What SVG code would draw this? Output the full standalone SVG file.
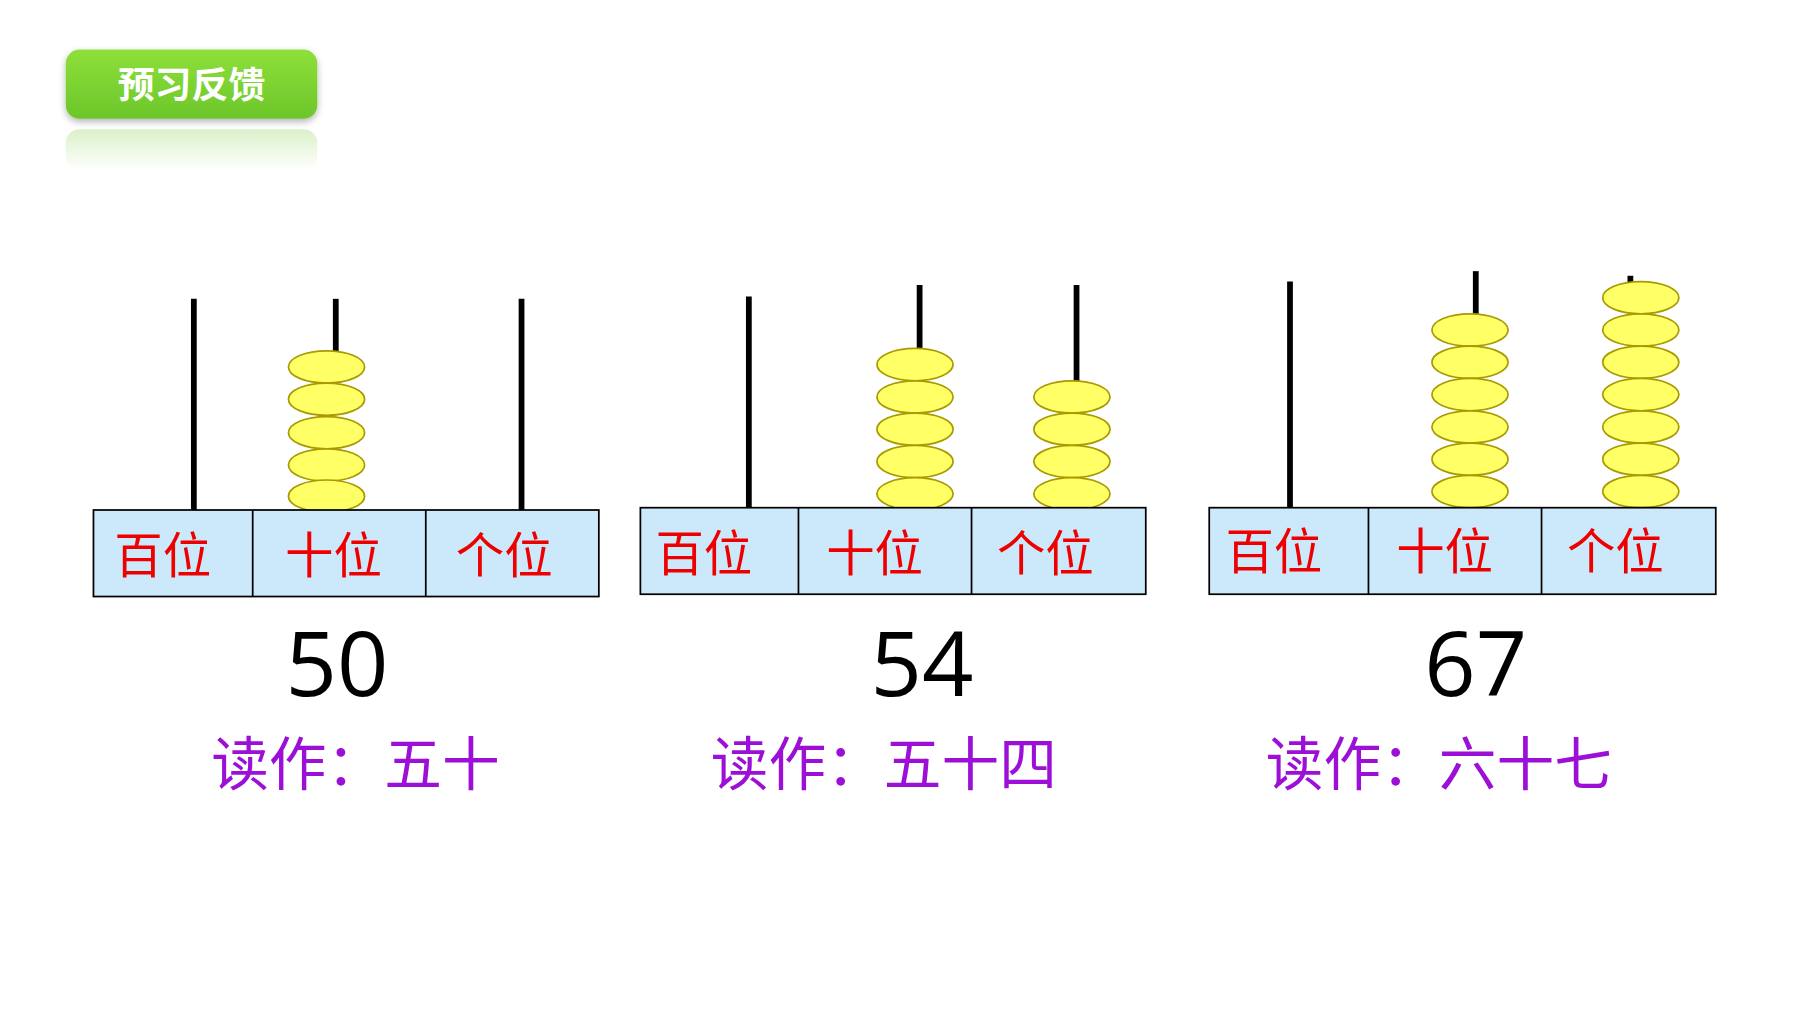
<svg xmlns="http://www.w3.org/2000/svg" width="1800" height="1020" viewBox="0 0 1800 1020">
<defs>
<linearGradient id="g" x1="0" y1="0" x2="0" y2="1"><stop offset="0" stop-color="#8ee03a"/><stop offset="1" stop-color="#6cc62a"/></linearGradient>
<linearGradient id="rf" x1="0" y1="0" x2="0" y2="1"><stop offset="0" stop-color="#6cc62a" stop-opacity="0.25"/><stop offset="1" stop-color="#6cc62a" stop-opacity="0"/></linearGradient>
<filter id="sh" x="-10%" y="-20%" width="120%" height="150%"><feGaussianBlur in="SourceAlpha" stdDeviation="3"/><feOffset dy="3"/><feComponentTransfer><feFuncA type="linear" slope="0.3"/></feComponentTransfer><feMerge><feMergeNode/><feMergeNode in="SourceGraphic"/></feMerge></filter>
<ellipse id="b" rx="33" ry="14" fill="#ffff66" stroke="#a89a00" stroke-width="1.5"/>
</defs>
<style>
.box{fill:#cce9fb;stroke:#000;stroke-width:1.5}
.rod{stroke:#000;stroke-width:5}
.lab{font-family:"Noto Sans CJK SC","Noto Sans",sans-serif;font-size:42px;fill:#ee0000;text-anchor:middle}
.num{font-family:"Open Sans","Noto Sans",sans-serif;font-size:78px;fill:#000;text-anchor:middle}
.rd{font-family:"Noto Sans CJK SC","Noto Sans",sans-serif;font-size:50px;fill:#9b0fd6}
</style>
<rect width="1800" height="1020" fill="#fff"/>
<g transform="scale(1.153846)">
<g id="title">
<rect x="57" y="112" width="218" height="36" rx="12" fill="url(#rf)"/>
<rect x="57" y="43" width="218" height="60" rx="12" fill="url(#g)" filter="url(#sh)"/>
<text x="166" y="85" font-family="Noto Sans CJK SC,sans-serif" font-weight="bold" font-size="32" fill="#fff" text-anchor="middle">预习反馈</text>
</g>
<g id="abacus50">
<line class="rod" x1="168" y1="259" x2="168" y2="442"/>
<line class="rod" x1="291" y1="259" x2="291" y2="305"/>
<line class="rod" x1="452" y1="259" x2="452" y2="442"/>
<use href="#b" x="283" y="318"/><use href="#b" x="283" y="346"/><use href="#b" x="283" y="375"/><use href="#b" x="283" y="403"/><use href="#b" x="283" y="430"/>
<rect class="box" x="81" y="442" width="438" height="75"/>
<line class="box" x1="219" y1="442" x2="219" y2="517"/><line class="box" x1="369" y1="442" x2="369" y2="517"/>
<text class="lab" x="141" y="497">百位</text><text class="lab" x="289" y="497">十位</text><text class="lab" x="437" y="497">个位</text>
<text class="num" x="292" y="603">50</text>
<text class="rd" x="183" y="680">读作：五十</text>
</g>
<g id="abacus54">
<line class="rod" x1="649" y1="257" x2="649" y2="442"/>
<line class="rod" x1="797" y1="247" x2="797" y2="303"/>
<line class="rod" x1="933" y1="247" x2="933" y2="331"/>
<use href="#b" x="793" y="316"/><use href="#b" x="793" y="344"/><use href="#b" x="793" y="372"/><use href="#b" x="793" y="400"/><use href="#b" x="793" y="428"/>
<use href="#b" x="929" y="344"/><use href="#b" x="929" y="372"/><use href="#b" x="929" y="400"/><use href="#b" x="929" y="428"/>
<rect class="box" x="555" y="440" width="438" height="75"/>
<line class="box" x1="692" y1="440" x2="692" y2="515"/><line class="box" x1="842" y1="440" x2="842" y2="515"/>
<text class="lab" x="610" y="495">百位</text><text class="lab" x="758" y="495">十位</text><text class="lab" x="906" y="495">个位</text>
<text class="num" x="799" y="603">54</text>
<text class="rd" x="616" y="680">读作：五十四</text>
</g>
<g id="abacus67">
<line class="rod" x1="1118" y1="244" x2="1118" y2="440"/>
<line class="rod" x1="1279" y1="235" x2="1279" y2="273"/>
<line class="rod" x1="1413" y1="239" x2="1413" y2="246"/>
<use href="#b" x="1274" y="286"/><use href="#b" x="1274" y="314"/><use href="#b" x="1274" y="342"/><use href="#b" x="1274" y="370"/><use href="#b" x="1274" y="398"/><use href="#b" x="1274" y="426"/>
<use href="#b" x="1422" y="258"/><use href="#b" x="1422" y="286"/><use href="#b" x="1422" y="314"/><use href="#b" x="1422" y="342"/><use href="#b" x="1422" y="370"/><use href="#b" x="1422" y="398"/><use href="#b" x="1422" y="426"/>
<rect class="box" x="1048" y="440" width="439" height="75"/>
<line class="box" x1="1186" y1="440" x2="1186" y2="515"/><line class="box" x1="1336" y1="440" x2="1336" y2="515"/>
<text class="lab" x="1104" y="493">百位</text><text class="lab" x="1252" y="493">十位</text><text class="lab" x="1400" y="493">个位</text>
<text class="num" x="1279" y="603">67</text>
<text class="rd" x="1097" y="680">读作：六十七</text>
</g>
<g id="connectors"/>
</g>
</svg>
